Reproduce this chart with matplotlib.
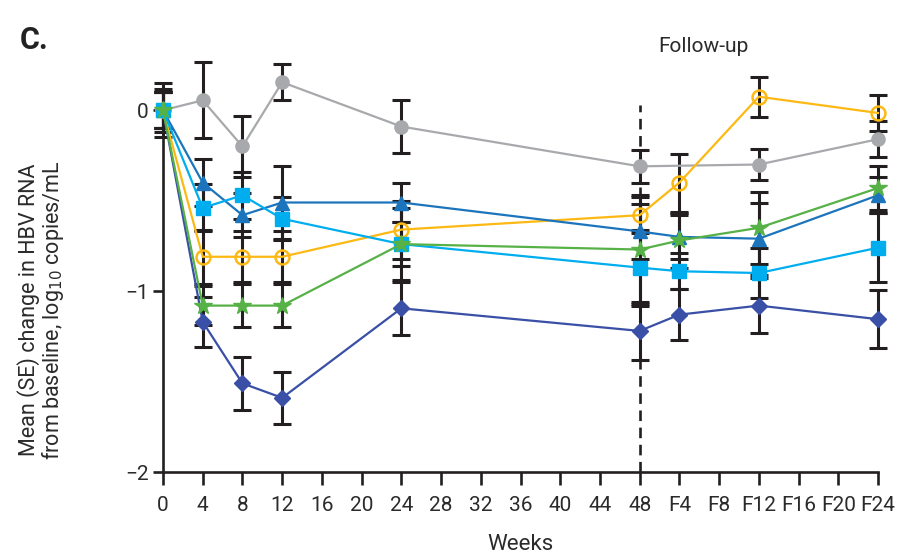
import numpy as np
import matplotlib
matplotlib.use("Agg")
import matplotlib.pyplot as plt

# Visit labels and their positions on the week axis (follow-up weeks continue after week 48)
visits = ["0", "4", "8", "12", "24", "48", "F4", "F12", "F24"]
visit_pos = [0, 4, 8, 12, 24, 48, 52, 60, 72]
tick_labels = ["0", "4", "8", "12", "16", "20", "24", "28", "32", "36", "40", "44",
               "48", "F4", "F8", "F12", "F16", "F20", "F24"]

# Mean change from baseline (log10 copies/mL) and standard errors per group
gray_mean = [0.0, 0.055, -0.20, 0.155, -0.09, -0.31, np.nan, -0.30, -0.16]
gray_se = [0.15, 0.21, 0.17, 0.10, 0.145, 0.09, np.nan, 0.085, 0.10]

orange_mean = [0.0, -0.81, -0.81, -0.81, -0.66, -0.58, -0.40, 0.075, -0.015]
orange_se = [0.12, 0.15, 0.14, 0.14, 0.16, 0.10, 0.16, 0.11, 0.10]

tri_mean = [0.0, -0.40, -0.58, -0.51, -0.51, -0.67, -0.70, -0.71, -0.47]
tri_se = [0.10, 0.13, 0.12, 0.20, 0.11, 0.15, 0.12, 0.20, 0.10]

sq_mean = [0.0, -0.54, -0.47, -0.60, -0.74, -0.87, -0.89, -0.90, -0.76]
sq_se = [0.10, 0.13, 0.13, 0.12, 0.12, 0.21, 0.10, 0.14, 0.19]

green_mean = [0.0, -1.08, -1.08, -1.08, -0.74, -0.77, -0.72, -0.65, -0.43]
green_se = [0.10, 0.11, 0.12, 0.12, 0.20, 0.30, 0.15, 0.20, 0.12]

navy_mean = [0.0, -1.17, -1.51, -1.59, -1.095, -1.22, -1.13, -1.08, -1.155]
navy_se = [0.10, 0.14, 0.145, 0.145, 0.145, 0.16, 0.14, 0.15, 0.16]

plt.rcParams["font.family"] = ["Roboto", "DejaVu Sans"]
INK = "#231f20"
TXT = "#2b2b2b"

fig = plt.figure(figsize=(9.02, 5.58), dpi=100)
ax = fig.add_axes([163 / 902, 1 - 472 / 558, (878 - 163) / 902, 416 / 558])

series = [
    (gray_mean, gray_se, "#a7a9ac", dict(marker="o", markersize=9.5, markerfacecolor="#a7a9ac")),
    (navy_mean, navy_se, "#3a4fa6", dict(marker="D", markersize=8.5, markerfacecolor="#3a4fa6")),
    (orange_mean, orange_se, "#fdb913", dict(marker="o", markersize=10, markerfacecolor="none",
                                             markeredgewidth=1.8)),
    (tri_mean, tri_se, "#1c75bc", dict(marker="^", markersize=10, markerfacecolor="#1c75bc")),
    (sq_mean, sq_se, "#00aeef", dict(marker="s", markersize=9.5, markerfacecolor="#00aeef")),
    (green_mean, green_se, "#56b146", dict(marker="*", markersize=13, markerfacecolor="#56b146")),
]

xpos = np.array(visit_pos, dtype=float)

# Error bars first (black, capped), then coloured lines with markers on top
for mean, se, color, mk in series:
    m = np.array(mean, dtype=float)
    s = np.array(se, dtype=float)
    ok = ~np.isnan(m)
    ax.errorbar(xpos[ok], m[ok], yerr=s[ok], fmt="none", ecolor=INK,
                elinewidth=2.2, capsize=6.5, capthick=2.2, zorder=2, clip_on=False)

for mean, se, color, mk in series:
    m = np.array(mean, dtype=float)
    ok = ~np.isnan(m)
    ax.plot(xpos[ok], m[ok], color=color, linewidth=1.6, markeredgecolor=color,
            zorder=3, clip_on=False, **mk)

# End-of-treatment marker and follow-up label
ax.plot([48, 48], [-2.0, 0.03], color=INK, linestyle=(0, (4, 2.5)), linewidth=1.9, zorder=1,
        clip_on=False)
fig.text(703 / 902, 1 - 47 / 558, "Follow-up", ha="center", va="center", fontsize=15,
         color=TXT)

# Axes styling
ax.set_xlim(0, 72)
ax.set_ylim(-2, 0.3)
ax.set_xticks(np.arange(0, 73, 4))
ax.set_xticklabels(tick_labels)
ax.set_yticks([0, -1, -2])
ax.set_yticklabels(["0", "\u22121", "\u22122"])
for side in ("top", "right"):
    ax.spines[side].set_visible(False)
ax.spines["left"].set_bounds(-2, 0.0)
for side in ("left", "bottom"):
    ax.spines[side].set_linewidth(1.9)
    ax.spines[side].set_color(INK)
ax.tick_params(axis="both", direction="out", width=1.9, color=INK,
               labelsize=15, labelcolor=TXT)
ax.tick_params(axis="x", length=9, pad=8)
ax.tick_params(axis="y", length=7.5, pad=3)

ax.set_xlabel("Weeks", fontsize=16, color=TXT, labelpad=14)

fig.text(42 / 902, 1 - 310 / 558,
         "Mean (SE) change in HBV RNA\nfrom baseline, log$_{10}$ copies/mL",
         rotation=90, ha="center", va="center", multialignment="center",
         fontsize=15.5, color=TXT, linespacing=1.0)

fig.text(20 / 902, 1 - 40 / 558, "C.", fontsize=22, fontweight="bold", color="#222222",
         ha="left", va="center")

fig.savefig("out.png", dpi=100)
